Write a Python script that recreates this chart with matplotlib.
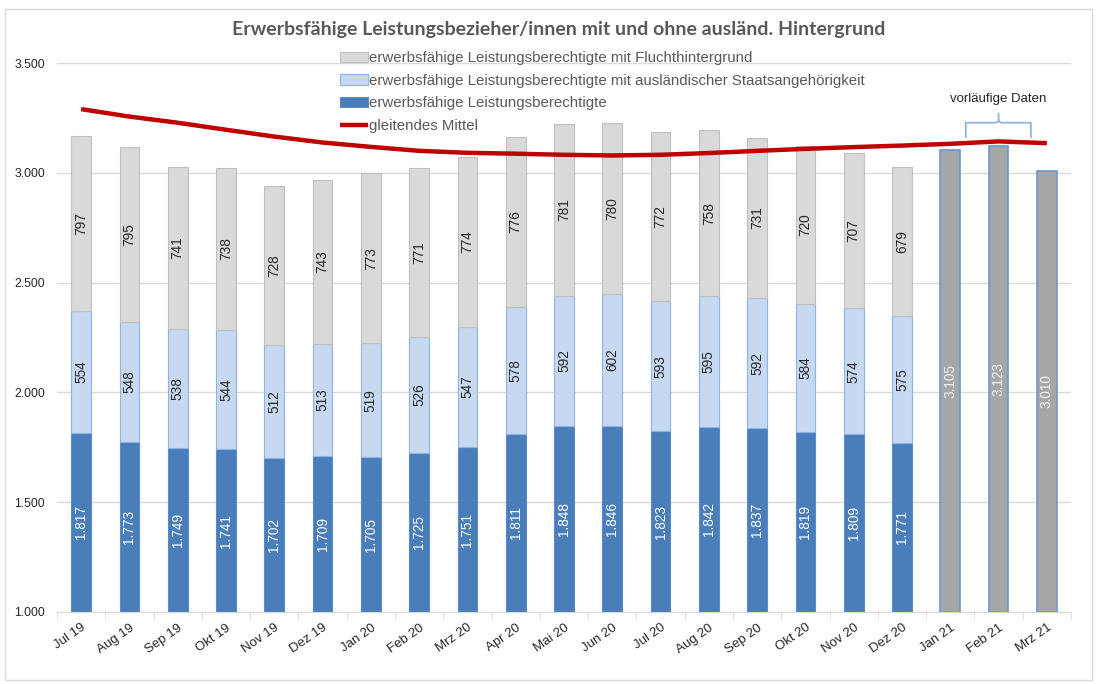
import numpy as np
import matplotlib
matplotlib.use("Agg")
import matplotlib.pyplot as plt
from matplotlib.patches import Rectangle, PathPatch
from matplotlib.path import Path

plt.rcParams['font.family'] = ['Liberation Sans', 'DejaVu Sans']

months = ["Jul 19", "Aug 19", "Sep 19", "Okt 19", "Nov 19", "Dez 19",
          "Jan 20", "Feb 20", "Mrz 20", "Apr 20", "Mai 20", "Jun 20",
          "Jul 20", "Aug 20", "Sep 20", "Okt 20", "Nov 20", "Dez 20",
          "Jan 21", "Feb 21", "Mrz 21"]

# detailed months (Jul 19 - Dez 20)
base = [1817, 1773, 1749, 1741, 1702, 1709, 1705, 1725, 1751, 1811,
        1848, 1846, 1823, 1842, 1837, 1819, 1809, 1771]
foreign = [554, 548, 538, 544, 512, 513, 519, 526, 547, 578,
           592, 602, 593, 595, 592, 584, 574, 575]
refugee = [797, 795, 741, 738, 728, 743, 773, 771, 774, 776,
           781, 780, 772, 758, 731, 720, 707, 679]

# preliminary totals (Jan 21 - Mrz 21)
prelim = [3105, 3123, 3010]

# moving average
moving_avg = [3290, 3256, 3228, 3196, 3165, 3138, 3118, 3100, 3091, 3087,
              3082, 3079, 3082, 3090, 3100, 3109, 3117, 3124, 3132, 3143, 3135]

legend_labels = ["erwerbsfähige Leistungsberechtigte mit Fluchthintergrund",
                 "erwerbsfähige Leistungsberechtigte mit ausländischer Staatsangehörigkeit",
                 "erwerbsfähige Leistungsberechtigte",
                 "gleitendes Mittel"]


def de(v):
    return f"{int(v):,}".replace(",", ".")


YMIN = 1000
fig = plt.figure(figsize=(10.98, 6.84), dpi=100)
ax = fig.add_axes([57 / 1098, 72 / 684, 1014 / 1098, 549 / 684])

n_det = len(base)
x_det = np.arange(n_det)
x_pre = np.arange(n_det, n_det + len(prelim))
w = 0.41

b_base = np.array(base)
b_for = np.array(foreign)
b_ref = np.array(refugee)

bars1 = ax.bar(x_det, b_base - YMIN, w, bottom=YMIN, color="#4a7ebb",
               edgecolor="#5b8cc8", linewidth=0.8, zorder=2)
bars2 = ax.bar(x_det, b_for, w, bottom=b_base, color="#c6d9f1",
               edgecolor="#8eb4e3", linewidth=0.8, zorder=2)
bars3 = ax.bar(x_det, b_ref, w, bottom=b_base + b_for, color="#d9d9d9",
               edgecolor="#bfbfbf", linewidth=0.8, zorder=2)
bars4 = ax.bar(x_pre, np.array(prelim) - YMIN, w, bottom=YMIN, color="#a6a6a6",
               edgecolor="#6f97c8", linewidth=1.2, zorder=2)

lab_fs = 9.8
ax.bar_label(bars1, labels=[de(v) for v in base], label_type="center",
             rotation=90, color="white", fontsize=lab_fs)
ax.bar_label(bars2, labels=[de(v) for v in foreign], label_type="center",
             rotation=90, color="#262626", fontsize=lab_fs)
ax.bar_label(bars3, labels=[de(v) for v in refugee], label_type="center",
             rotation=90, color="#262626", fontsize=lab_fs)
ax.bar_label(bars4, labels=[de(v) for v in prelim], label_type="center",
             rotation=90, color="#f2f2f2", fontsize=lab_fs)

line, = ax.plot(np.arange(len(months)), moving_avg, color="#c00000", lw=3.2,
                solid_capstyle="butt", zorder=3)

ax.set_xlim(-0.5, len(months) - 0.5)
ax.set_ylim(YMIN, 3500)
ax.set_yticks(np.arange(1000, 3501, 500))
ax.set_yticklabels([de(v) for v in np.arange(1000, 3501, 500)])
ax.set_xticks(np.arange(len(months)))
ax.set_xticklabels(months, rotation=35, ha="right", rotation_mode="anchor")
ax.set_xticks(np.arange(len(months) + 1) - 0.5, minor=True)
ax.tick_params(axis="x", which="major", length=0, pad=7, labelsize=9.5,
               labelcolor="#262626")
ax.tick_params(axis="x", which="minor", length=5, color="#d9d9d9")
ax.tick_params(axis="y", length=0, pad=8.6, labelsize=8.8, labelcolor="#262626")
ax.grid(axis="y", color="#d9d9d9", lw=1, zorder=0)
ax.set_axisbelow(True)
for s in ["left", "right", "top"]:
    ax.spines[s].set_visible(False)
ax.spines["bottom"].set_color("#d9d9d9")

# brace over preliminary data
xl, xm, xr = 18.32, 19.0, 19.67
yb, yh, yt = 3159, 3228, 3273
d = 0.08
verts = [(xl, yb), (xl, yh), (xl + d, yh),
         (xm - d, yh), (xm, yh), (xm, yh + 15),
         (xm, yt)]
codes = [Path.MOVETO, Path.LINETO, Path.LINETO,
         Path.LINETO, Path.CURVE3, Path.CURVE3, Path.LINETO]
ax.add_patch(PathPatch(Path(verts, codes), fill=False, color="#8eb4e3", lw=1.3, zorder=4))
verts = [(xr, yb), (xr, yh), (xr - d, yh), (xm + d, yh), (xm, yh), (xm, yh + 15)]
codes = [Path.MOVETO, Path.LINETO, Path.LINETO, Path.LINETO, Path.CURVE3, Path.CURVE3]
ax.add_patch(PathPatch(Path(verts, codes), fill=False, color="#8eb4e3", lw=1.3, zorder=4))
ax.text(xm, 3335, "vorläufige Daten", ha="center", va="center", fontsize=9.5,
        color="#262626")

handles = [bars3, bars2, bars1, line]
fig.legend(handles, legend_labels, loc="upper left",
           bbox_to_anchor=(334 / 1098, 1 - 45 / 684), frameon=False,
           fontsize=10.8, labelcolor="#595959", handlelength=1.85,
           handletextpad=0.1, labelspacing=0.58, borderaxespad=0)

fig.text(559 / 1098, 1 - 29 / 684,
         "Erwerbsfähige Leistungsbezieher/innen mit und ohne ausländ. Hintergrund",
         ha="center", va="center", fontsize=14, fontweight="bold",
         color="#595959", family="Lato")

fig.patches.append(Rectangle((5 / 1098, 4 / 684), 1087 / 1098, 671 / 684,
                             transform=fig.transFigure, fill=False,
                             edgecolor="#d9d9d9", lw=1))

fig.savefig("out.png", dpi=100)
